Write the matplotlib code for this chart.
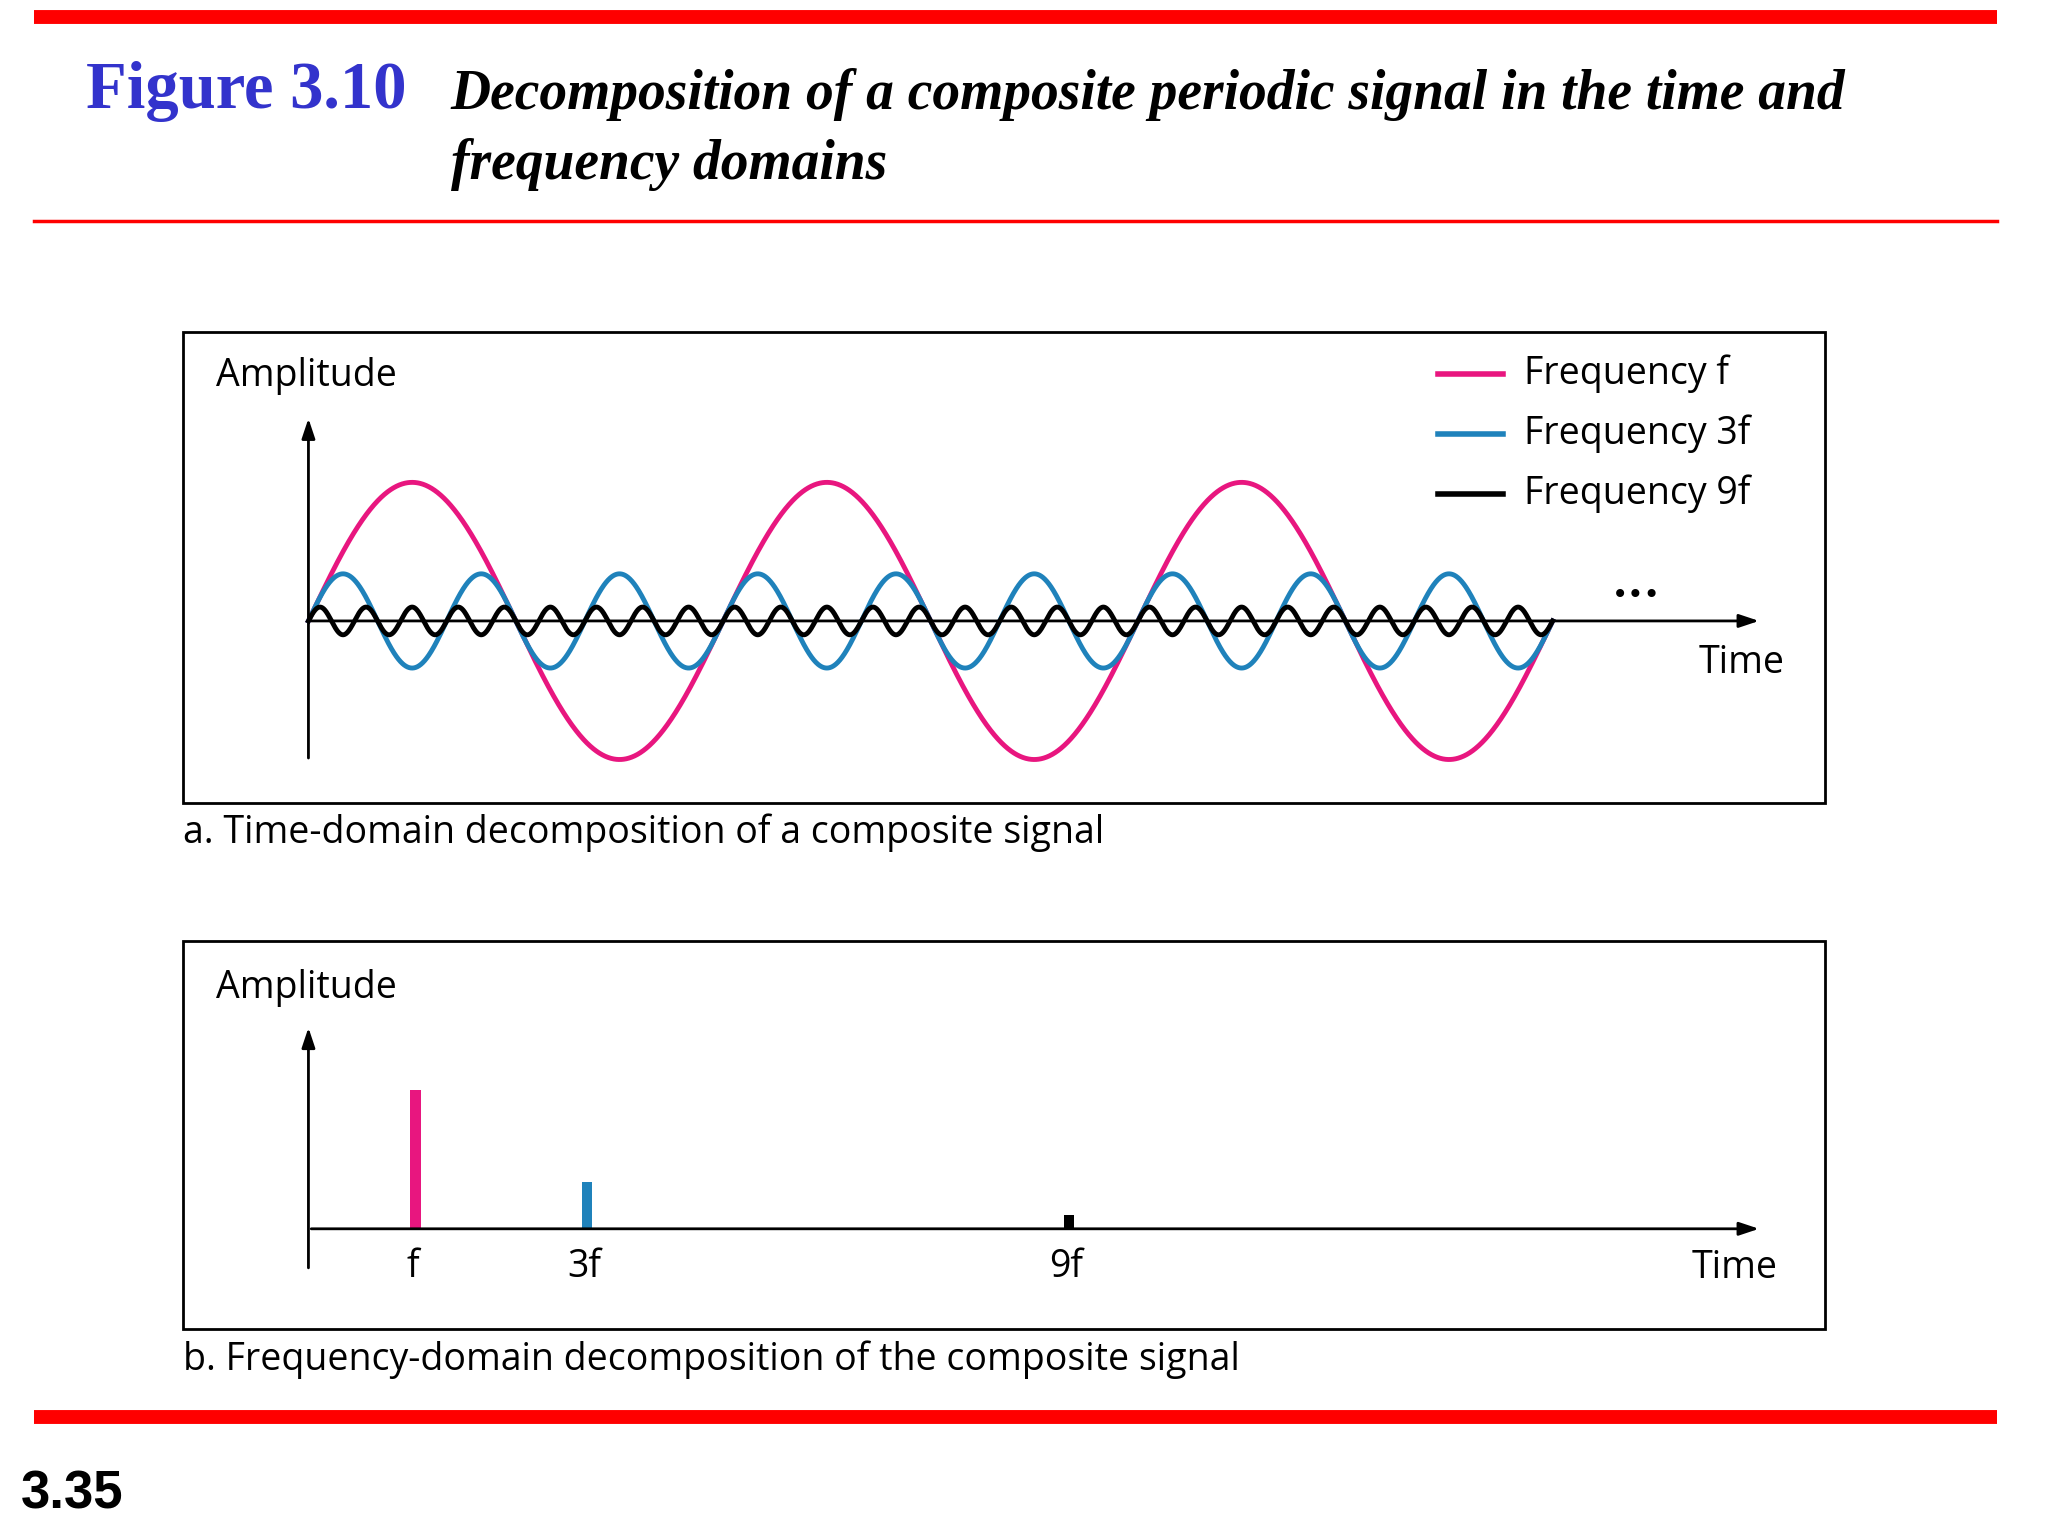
import numpy as np
import matplotlib
matplotlib.use("Agg")
import matplotlib.pyplot as plt

# data
freq_labels = ["f", "3f", "9f"]
freq_mult = [1, 3, 9]
amplitudes = [1.0, 0.34, 0.10]
colors = ["#e8167f", "#1f82bb", "#000000"]
legend_labels = ["Frequency f", "Frequency 3f", "Frequency 9f"]
n_periods = 3

W, H = 1567, 1175
fig = plt.figure(figsize=(20.48, 15.36), dpi=100)
ax = fig.add_axes([0, 0, 1, 1])
ax.set_xlim(0, W); ax.set_ylim(H, 0); ax.axis("off")

red = "#ff0000"
ax.plot([26, 1528], [13, 13], color=red, lw=10, solid_capstyle="butt")
ax.plot([26, 1528], [169, 169], color=red, lw=2.5)
ax.plot([26, 1528], [1084, 1084], color=red, lw=10, solid_capstyle="butt")
ax.text(66, 70, "Figure 3.10", fontsize=48, color="#3333cc", family="Liberation Serif",
        weight="bold", va="center")
ax.text(345, 72, "Decomposition of a composite periodic signal in the time and",
        fontsize=40, family="Liberation Serif", weight="bold", style="italic", va="center")
ax.text(345, 126, "frequency domains", fontsize=40, family="Liberation Serif",
        weight="bold", style="italic", va="center")
ax.text(16, 1143, "3.35", fontsize=38, weight="bold", family="Liberation Sans", va="center")

sans = "Open Sans"
fs = 27
# panel a
ax.add_patch(plt.Rectangle((140, 254), 1256, 360, fill=False, lw=2))
ax.text(165, 288, "Amplitude", fontsize=fs, family=sans, va="center")
ax.annotate("", xy=(236, 318), xytext=(236, 582),
            arrowprops=dict(arrowstyle="-|>,head_length=1.2,head_width=0.4", color="k", lw=2))
ax.annotate("", xy=(1348, 475), xytext=(236, 475),
            arrowprops=dict(arrowstyle="-|>,head_length=1.2,head_width=0.4", color="k", lw=2))
ax.text(1300, 507, "Time", fontsize=fs, family=sans, va="center")
ax.text(1252, 455, "\u2022\u2022\u2022", fontsize=20, ha="center", va="center")
x0, x1, y0, A = 236, 1188, 475, 106
t = np.linspace(0, 1, 3000)
for m, a, c, lab in zip(freq_mult, amplitudes, colors, legend_labels):
    ax.plot(x0 + t * (x1 - x0), y0 - A * a * np.sin(2 * np.pi * n_periods * m * t),
            color=c, lw=3.5)
for i, (c, lab) in enumerate(zip(colors, legend_labels)):
    y = 286 + i * 46
    ax.plot([1100, 1150], [y, y], color=c, lw=4)
    ax.text(1166, y, lab, fontsize=fs, family=sans, va="center")
ax.text(140, 637, "a. Time-domain decomposition of a composite signal", fontsize=fs,
        family=sans, va="center")

# panel b
ax.add_patch(plt.Rectangle((140, 720), 1256, 297, fill=False, lw=2))
ax.text(165, 756, "Amplitude", fontsize=fs, family=sans, va="center")
ax.annotate("", xy=(236, 784), xytext=(236, 972),
            arrowprops=dict(arrowstyle="-|>,head_length=1.2,head_width=0.4", color="k", lw=2))
ax.annotate("", xy=(1348, 940), xytext=(236, 940),
            arrowprops=dict(arrowstyle="-|>,head_length=1.2,head_width=0.4", color="k", lw=2))
ax.text(1294, 970, "Time", fontsize=fs, family=sans, va="center")
bx = [318, 449, 818]
ax.bar(bx, [-A * a for a in amplitudes], bottom=940, width=8, color=colors)
for x, l in zip(bx, freq_labels):
    ax.text(x - 2, 969, l, fontsize=fs, family=sans, ha="center", va="center")
ax.text(140, 1040, "b. Frequency-domain decomposition of the composite signal", fontsize=fs,
        family=sans, va="center")

fig.savefig("out.png", dpi=100)
